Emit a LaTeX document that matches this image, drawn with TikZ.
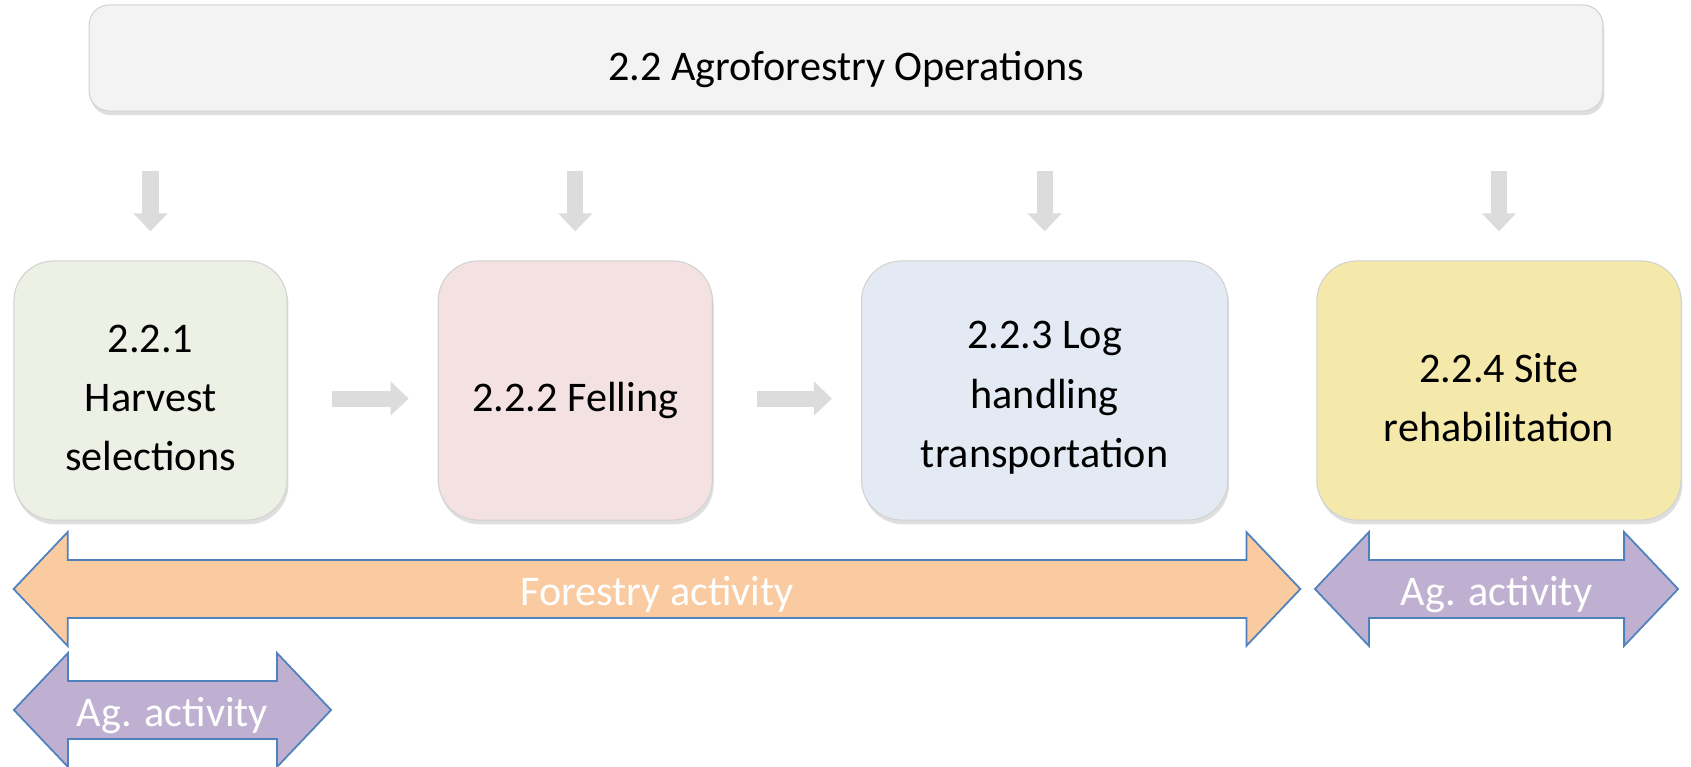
\documentclass[tikz,border=0pt]{standalone}
\usepackage{fontspec}
\setmainfont{Carlito}
\usetikzlibrary{positioning, shapes.arrows, shadows, arrows.meta}

\definecolor{topfill}{HTML}{F3F3F3}
\definecolor{boxline}{HTML}{D2D2D2}
\definecolor{greyarrow}{HTML}{DCDCDC}
\definecolor{harvestfill}{HTML}{EDF0E4}
\definecolor{fellingfill}{HTML}{F3E2E1}
\definecolor{logfill}{HTML}{E3EAF3}
\definecolor{sitefill}{HTML}{F4E9AA}
\definecolor{forestfill}{HTML}{FACAA0}
\definecolor{agfill}{HTML}{BFB0D2}
\definecolor{spanline}{HTML}{4F81BD}

\tikzset{
every node/.style={font=\fontsize{12}{16.8}\selectfont}, % all text in one size
stage/.style={draw=boxline, line width=0.3pt, rounded corners=0.4cm, minimum height=2.59cm, align=center,
  drop shadow={opacity=0.25, shadow xshift=0.4pt, shadow yshift=-1.2pt}}, % the four operation boxes
span/.style={double arrow, draw=spanline, line width=0.5pt, double arrow head extend=0.28cm,
  double arrow tip angle=93, minimum width=1.12cm, text=white, inner xsep=0pt, inner ysep=0.1cm,
  text height=0.34cm, text depth=0.02cm}, % the wide two-headed arrows
downarr/.style={draw=greyarrow, line width=0.16cm, -{Triangle[width=0.33cm, length=0.18cm]}}, % grey block arrows
}

\begin{document}
\begin{tikzpicture}[x=0.01cm, y={(0cm,-0.01cm)}]
    \useasboundingbox (0,0) rectangle (1691,767);
    \node[draw=boxline, line width=0.3pt, fill=topfill, rounded corners=0.2cm, minimum width=15.13cm,
      minimum height=1.06cm, text height=0.5cm, text depth=0.05cm,
      drop shadow={opacity=0.25, shadow xshift=0.4pt, shadow yshift=-1.2pt}] (top) at (846,58) {2.2 Agroforestry Operations};
    % text height only lowers the lines a little inside each box
    \node[stage, fill=harvestfill, minimum width=2.73cm, text height=1.6cm] (hs) at (150.5,390.5) {2.2.1\\Harvest\\selections};
    \node[stage, fill=fellingfill, minimum width=2.74cm, text height=0.5cm, right=1.5cm of hs] (fel) {2.2.2 Felling};
    \node[stage, fill=logfill, minimum width=3.66cm, text height=1.6cm, right=1.48cm of fel] (log) {2.2.3 Log\\handling\\transportation};
    \node[stage, fill=sitefill, minimum width=3.64cm, text height=1.03cm, right=0.88cm of log] (site) {2.2.4 Site\\rehabilitation};
    \node[span, fill=forestfill, minimum height=12.86cm] (forest) at (657,589) {Forestry activity};
    \node[span, fill=agfill, minimum height=3.63cm] (agsite) at (1496.5,589) {Ag. activity};
    \node[span, fill=agfill, minimum height=3.17cm] (agharv) at (172.5,710) {Ag. activity};
    \foreach \b in {hs, fel, log, site}
      \draw[downarr] ([yshift=-0.59cm]top.south -| \b.north) -- ([yshift=0.29cm]\b.north);
    \draw[downarr] ([shift={(0.44cm,-0.08cm)}]hs.east) -- ([shift={(-0.29cm,-0.08cm)}]fel.west);
    \draw[downarr] ([shift={(0.44cm,-0.08cm)}]fel.east) -- ([shift={(-0.29cm,-0.08cm)}]log.west);
\end{tikzpicture}
\end{document}
